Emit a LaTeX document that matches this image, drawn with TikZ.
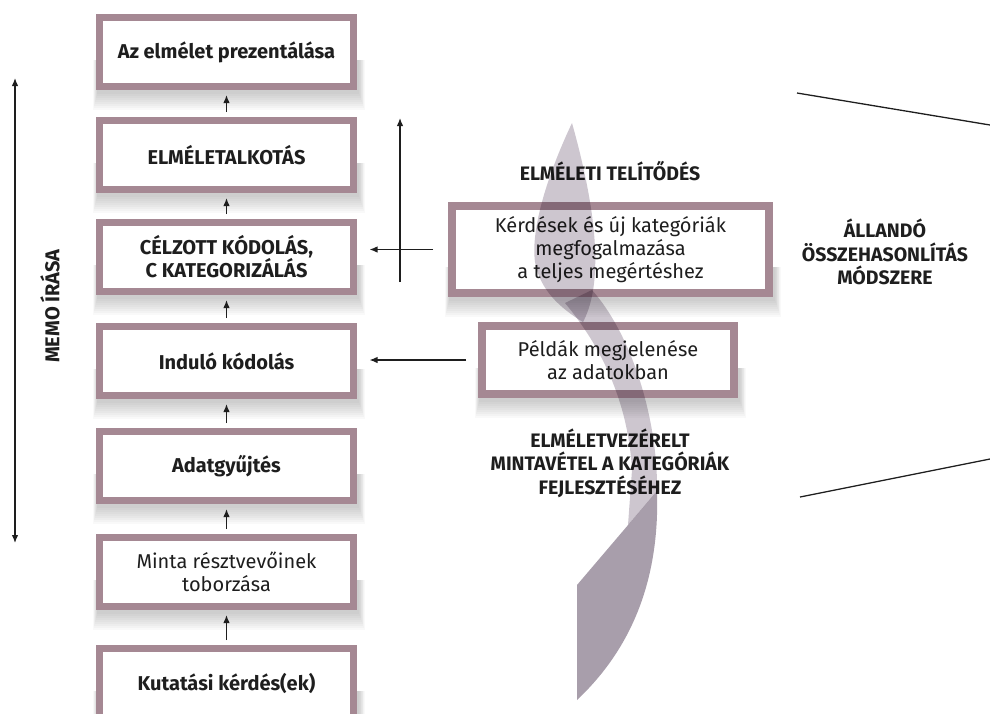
\documentclass[tikz,border=0pt]{standalone}
\usepackage{fontspec}
\setmainfont{Fira Sans}
\usetikzlibrary{arrows.meta,calc,backgrounds}
\definecolor{frame}{HTML}{A58893}
\definecolor{ink}{HTML}{1E1E1E}
\definecolor{ribbonlight}{HTML}{CDC6CF}
\definecolor{ribbondark}{HTML}{A89EAB}
\begin{document}
\begin{tikzpicture}[x=1pt,y=-1pt,
  stage/.style={draw=frame, line width=7pt, fill=white, text=ink,
    minimum width=254pt, minimum height=69pt, inner sep=0pt, align=center},
  boldstage/.style={stage, font=\bfseries\fontsize{20}{23}\selectfont},
  plainstage/.style={stage, font=\fontsize{20}{23}\selectfont},
  sidebox/.style={draw=frame, line width=8pt, fill=white, text=ink, inner sep=0pt,
    align=center, font=\fontsize{20}{23}\selectfont},
  shadowlayer/.style={fill=black, fill opacity=0.022},
  note/.style={font=\bfseries\fontsize{19.5}{23.5}\selectfont, align=center, text=ink},
  arr/.style={draw=ink, line width=1.3pt, -{Latex[length=8pt,width=6.5pt]}},
  steparr/.style={draw=ink, line width=1.3pt, -{Latex[length=8pt,width=6.5pt]}, shorten >=5pt, shorten <=5pt},
  plainline/.style={draw=ink, line width=1.3pt}
]
\useasboundingbox (0,0) rectangle (990,713);

% process column
\node[boldstage]  (b1) at (226.5,52)  {Az elmélet prezentálása};
\node[boldstage]  (b2) at (226.5,155) {ELMÉLETALKOTÁS};
\node[boldstage]  (b3) at (226.5,257) {CÉLZOTT KÓDOLÁS,\\C KATEGORIZÁLÁS};
\node[boldstage]  (b4) at (226.5,361) {Induló kódolás};
\node[boldstage]  (b5) at (226.5,466) {Adatgyűjtés};
\node[plainstage] (b6) at (226.5,572) {Minta résztvevőinek\\toborzása};
\node[boldstage]  (b7) at (226.5,683) {Kutatási kérdés(ek)};

\foreach \lo/\hi in {b7/b6,b6/b5,b5/b4,b4/b3,b3/b2,b2/b1}
  \draw[steparr] (\lo.north) -- (\hi.south);

% side boxes
\node[sidebox, minimum width=317pt, minimum height=87pt] (r1) at (610.5,249.5)
  {Kérdések és új kategóriák\\megfogalmazása\\a teljes megértéshez};
\node[sidebox, minimum width=252pt, minimum height=68pt] (r2) at (608,360)
  {Példák megjelenése\\az adatokban};

% soft shadows under the boxes
\begin{scope}[on background layer]
  \foreach \n in {b1,b2,b3,b4,b5,b6,b7,r1,r2}
    \foreach \k in {4,6,...,20}
      \fill[shadowlayer] ($(\n.south west)+(-\k/4+2,-30)$) rectangle ($(\n.south east)+(\k/3+1,\k)$);
\end{scope}

\draw[arr, shorten <=15pt, shorten >=12.5pt] (r1.west) -- (r1.west -| b3.east);
\draw[arr, shorten <=12pt, shorten >=12.5pt] (r2.west) -- (r2.west -| b4.east);

\coordinate (vbot) at (400,282);
\coordinate (vtop) at (400,118);
\draw[arr] (vbot) -- (vtop);

% memo axis
\coordinate (memotop) at (15,78);
\coordinate (memobot) at (15,543);
\draw[draw=ink, line width=1.3pt, {Latex[length=8pt,width=6.5pt]}-{Latex[length=8pt,width=6.5pt]}] (memotop) -- (memobot);
\node[note, rotate=90, font=\bfseries\fontsize{20}{20}\selectfont] (memo) at (50,306) {MEMO ÍRÁSA};

% labels
\node[note] (telit) at (610,171) {ELMÉLETI TELÍTŐDÉS};
\node[note] (mintav) at (610,463) {ELMÉLETVEZÉRELT\\MINTAVÉTEL A KATEGÓRIÁK\\FEJLESZTÉSÉHEZ};
\node[note] (allando) at (885,252) {ÁLLANDÓ\\ÖSSZEHASONLÍTÁS\\MÓDSZERE};

% bracket lines toward the right edge
\coordinate (u1) at (797,93);
\coordinate (u2) at (990,125);
\coordinate (l1) at (800,497);
\coordinate (l2) at (990,459);
\draw[plainline] (u1) -- (u2);
\draw[plainline] (l1) -- (l2);

% twisting ribbon
\begin{scope}[blend mode=multiply]
  \fill[ribbonlight] (572,123) .. controls (552,165) and (530,225) .. (535,262)
    .. controls (540,290) and (560,308) .. (583,322)
    .. controls (600,290) and (602,230) .. (572,123) -- cycle;
  \fill[ribbonlight] (565,303) .. controls (600,345) and (628,400) .. (632,470)
    -- (628,525) -- (657,491)
    .. controls (658,420) and (632,335) .. (592,290) -- cycle;
  \fill[ribbondark] (657,491) -- (577,585) -- (577,700)
    .. controls (628,652) and (660,585) .. (657,491) -- cycle;
\end{scope}
\end{tikzpicture}
\end{document}
